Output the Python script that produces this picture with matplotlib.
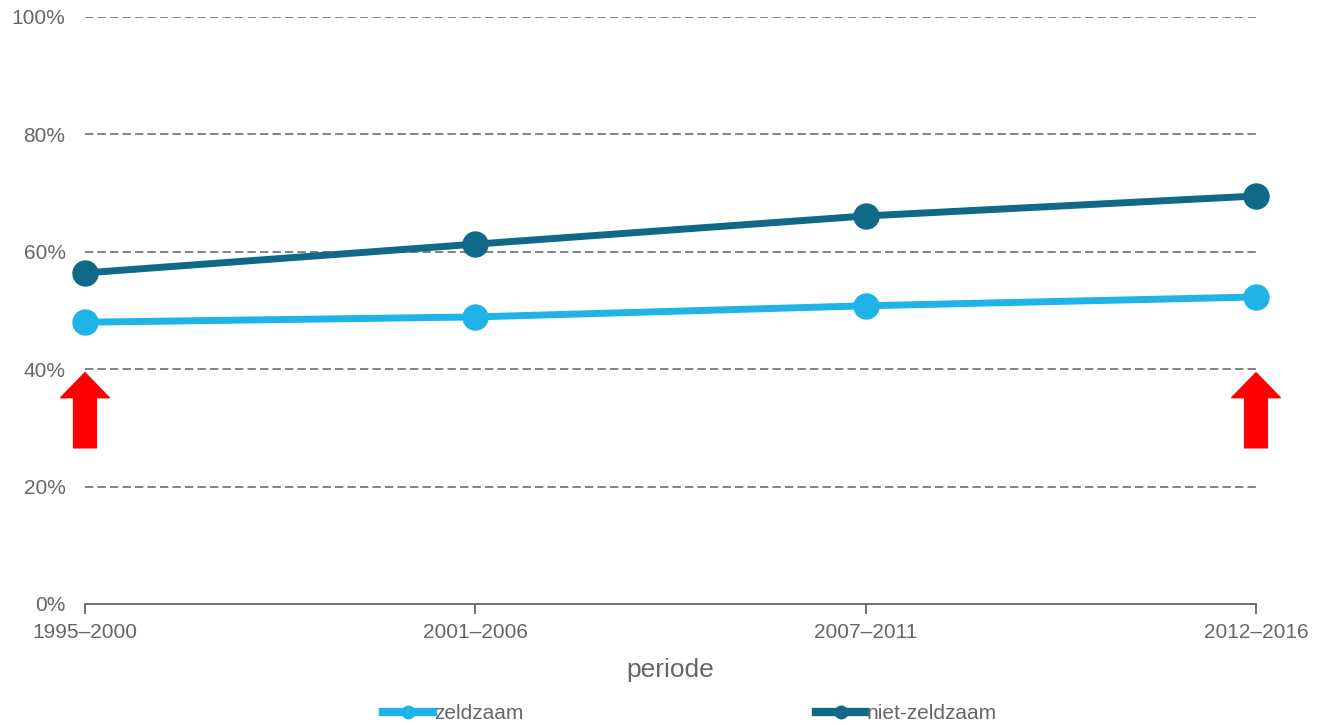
import matplotlib.pyplot as plt

periods = ["1995–2000", "2001–2006", "2007–2011", "2012–2016"]
zeldzaam = [48.0, 48.9, 50.8, 52.3]
niet_zeldzaam = [56.4, 61.3, 66.1, 69.5]
y_ticks = [0, 20, 40, 60, 80, 100]
# arrows mark the first and last period (tip and base, in %)
arrow_periods = [0, 3]
arrow_tip, arrow_base = 39.4, 26.6

light = "#1eb4e8"
dark = "#106a87"
grey = "#666666"

plt.rcParams["font.family"] = ["Liberation Sans", "DejaVu Sans"]

fig = plt.figure(figsize=(13.17, 7.25), dpi=100)
ax = fig.add_axes([0.0645, 0.1669, 0.8892, 0.8097])

x = list(range(len(periods)))
ax.plot(x, zeldzaam, "-o", color=light, lw=5, ms=18, label="zeldzaam", clip_on=False, zorder=3)
ax.plot(x, niet_zeldzaam, "-o", color=dark, lw=5, ms=18, label="niet-zeldzaam", clip_on=False, zorder=3)

for i in arrow_periods:
    ax.annotate("", xy=(i, arrow_tip), xytext=(i, arrow_base),
                arrowprops=dict(arrowstyle="simple,head_length=0.9,head_width=1.75,tail_width=0.82",
                                color="red", shrinkA=0, shrinkB=0, mutation_scale=20),
                zorder=4, annotation_clip=False)

ax.set_xlim(0, 3)
ax.set_ylim(0, 100)
ax.set_yticks(y_ticks)
ax.set_yticklabels([f"{t}%" for t in y_ticks])
ax.set_xticks(x)
ax.set_xticklabels(periods)

for t in y_ticks[1:]:
    ax.axhline(t, color="#6e6e6e", lw=1.2, ls=(0, (5, 2.5)), zorder=1)

for s in ["top", "right", "left"]:
    ax.spines[s].set_visible(False)
ax.spines["bottom"].set_color(grey)
ax.spines["bottom"].set_linewidth(1.3)
ax.tick_params(axis="y", length=0, pad=14, labelsize=15, labelcolor=grey)
ax.tick_params(axis="x", length=7, width=1.3, color=grey, pad=7, labelsize=15, labelcolor=grey)

ax.set_xlabel("periode", fontsize=19, color=grey, labelpad=11)

leg = fig.legend(loc="center", bbox_to_anchor=(0.524, 0.016), ncol=2, frameon=False,
                 fontsize=15, handlelength=2.4, handletextpad=0.05, columnspacing=14,
                 markerscale=0.5, labelcolor=grey)
for h in leg.legend_handles:
    h.set_linewidth(6)

fig.savefig("out.png", dpi=100)
